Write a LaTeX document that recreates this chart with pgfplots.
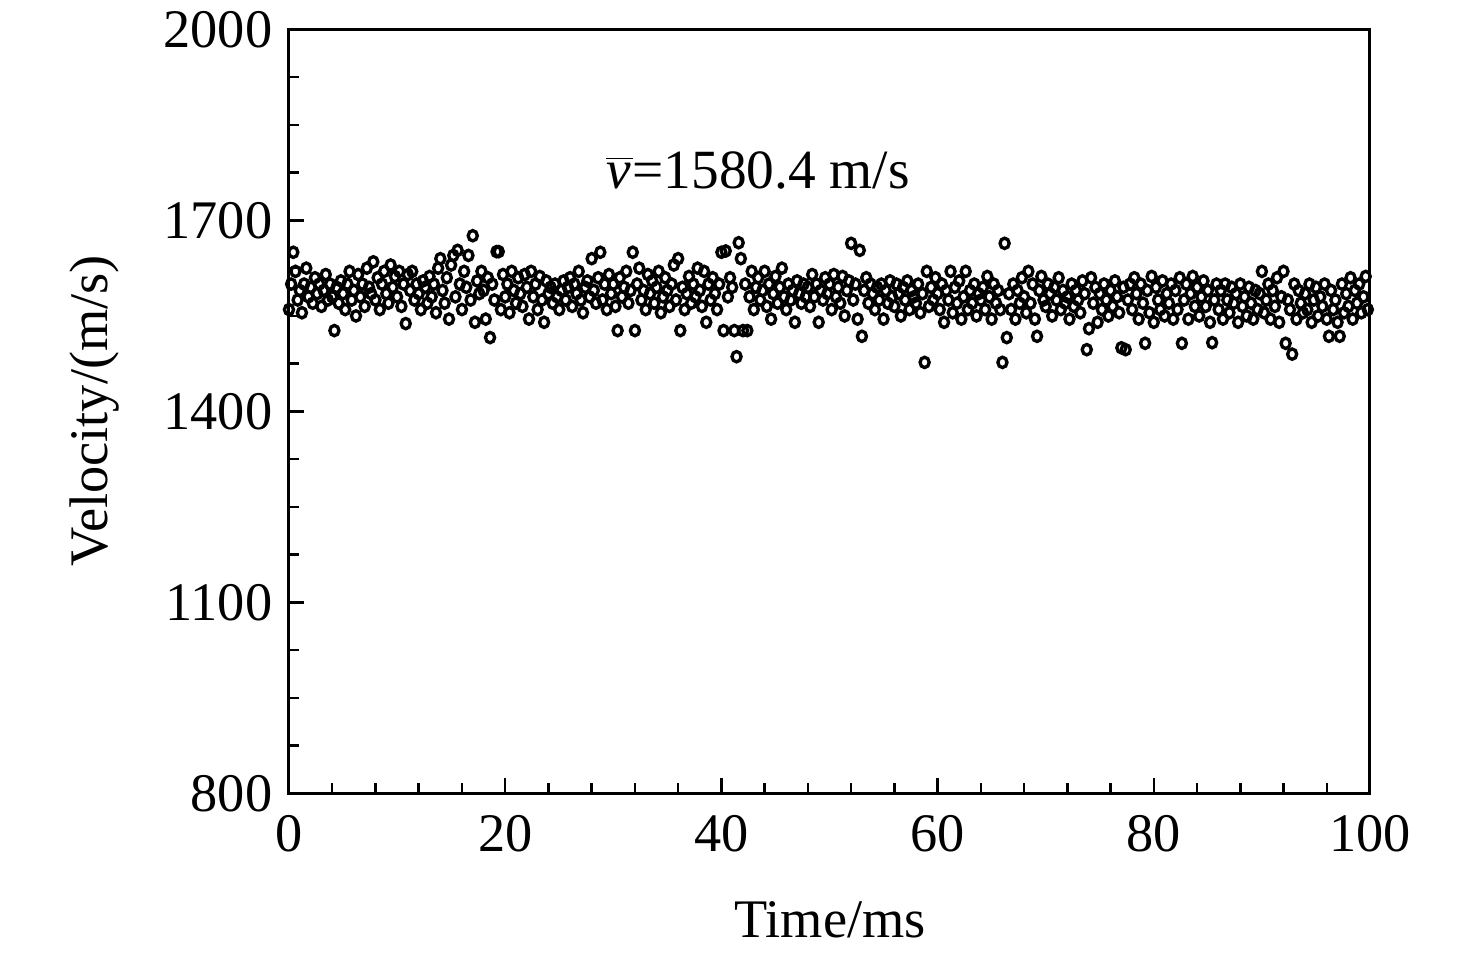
\documentclass[border=0pt]{standalone}
\usepackage{fontspec}
\setmainfont{Liberation Serif}
\usepackage{pgfplots}
\usepackage{pgfplotstable}
\pgfplotsset{compat=1.18}
% each row: 2 ms of samples, one every 0.2 ms (columns k0..k9)
\pgfplotstableread{
k0 k1 k2 k3 k4 k5 k6 k7 k8 k9
1560 1600 1650 1620 1575 1590 1555 1600 1625 1580
1595 1570 1610 1585 1600 1565 1590 1615 1575 1600
1580 1527 1595 1570 1605 1585 1560 1600 1620 1575
1590 1550 1615 1580 1600 1565 1625 1595 1585 1635
1575 1610 1560 1600 1620 1585 1570 1630 1595 1612
1580 1620 1565 1600 1538 1615 1590 1620 1575 1600
1585 1560 1605 1595 1570 1612 1580 1600 1555 1625
1640 1590 1570 1610 1545 1630 1645 1580 1653 1600
1560 1620 1595 1645 1575 1676 1540 1605 1585 1620
1590 1545 1610 1516 1600 1575 1651 1651 1560 1615
1580 1600 1555 1620 1590 1570 1610 1585 1565 1615
1595 1545 1620 1580 1600 1560 1612 1575 1540 1605
1585 1595 1570 1600 1580 1560 1590 1605 1575 1595
1610 1565 1600 1585 1620 1575 1555 1595 1605 1580
1640 1590 1570 1610 1650 1575 1600 1560 1615 1585
1600 1565 1527 1610 1580 1595 1620 1570 1590 1650
1527 1600 1625 1575 1590 1560 1615 1585 1605 1570
1595 1620 1555 1580 1610 1590 1565 1600 1630 1575
1640 1527 1595 1560 1585 1612 1570 1600 1580 1625
1590 1565 1620 1540 1600 1575 1610 1585 1560 1600
1650 1527 1652 1580 1610 1595 1527 1486 1665 1640
1527 1600 1527 1580 1620 1560 1595 1610 1575 1590
1620 1565 1600 1545 1585 1612 1570 1595 1625 1580
1560 1600 1575 1590 1540 1605 1585 1570 1600 1580
1595 1565 1615 1580 1600 1540 1590 1575 1610 1585
1600 1560 1615 1580 1595 1570 1612 1550 1590 1605
1664 1575 1600 1545 1653 1518 1590 1610 1570 1600
1585 1560 1595 1575 1600 1545 1590 1570 1605 1580
1565 1600 1585 1550 1595 1575 1605 1560 1590 1580
1570 1600 1555 1585 1477 1620 1565 1595 1575 1610
1585 1560 1600 1540 1590 1575 1620 1555 1595 1570
1605 1545 1580 1620 1560 1590 1570 1600 1550 1585
1575 1595 1560 1612 1580 1545 1600 1570 1590 1560
1477 1664 1516 1585 1560 1600 1545 1590 1570 1610
1580 1555 1620 1570 1600 1545 1518 1590 1612 1575
1565 1600 1585 1550 1595 1575 1610 1560 1590 1570
1580 1545 1600 1565 1590 1575 1555 1605 1585 1497
1530 1610 1570 1595 1540 1585 1560 1600 1575 1550
1590 1565 1605 1580 1555 1500 1595 1497 1575 1600
1560 1610 1585 1545 1600 1570 1507 1590 1555 1612
1540 1595 1575 1560 1605 1550 1585 1570 1600 1545
1590 1560 1610 1507 1575 1600 1545 1585 1612 1565
1595 1550 1580 1605 1565 1590 1540 1508 1575 1600
1560 1590 1545 1600 1575 1555 1595 1570 1585 1540
1600 1565 1580 1550 1595 1570 1545 1590 1560 1585
1620 1555 1575 1600 1545 1590 1565 1610 1540 1580
1620 1507 1575 1560 1490 1600 1545 1590 1570 1555
1585 1560 1600 1540 1575 1595 1550 1580 1565 1600
1545 1518 1590 1560 1575 1540 1518 1600 1555 1585
1565 1610 1545 1590 1570 1600 1555 1580 1612 1560
}\velo
\pgfplotsset{vel/.style={black, only marks, mark=o, mark size=1.55pt,
    mark options={line width=1pt, xscale=0.88, black}}}
\begin{document}
\begin{tikzpicture}
\begin{axis}[
  name=ax,
  at={(0,0)}, anchor=south west,
  scale only axis,
  width=324.3pt, height=229.2pt,
  xmin=0, xmax=100, ymin=800, ymax=2000,
  xtick={0,20,...,100}, ytick={800,1100,...,2000},
  minor x tick num=4, minor y tick num=3,
  tick align=inside,
  xtick pos=bottom, ytick pos=left,
  major tick length=4.5pt, minor tick length=3pt,
  axis line style={line width=0.9pt},
  every tick/.style={black, line width=0.75pt},
  /pgf/number format/assume math mode=true,
  /pgf/number format/1000 sep={},
  tick label style={font=\fontsize{16.3}{19}\selectfont},
  xticklabel style={yshift=-3pt},
  yticklabel style={xshift=-1.5pt},
  label style={font=\fontsize{16.3}{19}\selectfont},
  xlabel={Time/ms},
  ylabel={Velocity/(m/s)},
  xlabel style={at={(axis description cs:0.5005,-0.166)}, anchor=center},
  ylabel style={at={(axis description cs:-0.1795,0.501)}, anchor=center},
  clip=true,
]
\addplot[vel] table[x expr=\coordindex*2+0.0, y=k0] {\velo};
\addplot[vel] table[x expr=\coordindex*2+0.2, y=k1] {\velo};
\addplot[vel] table[x expr=\coordindex*2+0.4, y=k2] {\velo};
\addplot[vel] table[x expr=\coordindex*2+0.6, y=k3] {\velo};
\addplot[vel] table[x expr=\coordindex*2+0.8, y=k4] {\velo};
\addplot[vel] table[x expr=\coordindex*2+1.0, y=k5] {\velo};
\addplot[vel] table[x expr=\coordindex*2+1.2, y=k6] {\velo};
\addplot[vel] table[x expr=\coordindex*2+1.4, y=k7] {\velo};
\addplot[vel] table[x expr=\coordindex*2+1.6, y=k8] {\velo};
\addplot[vel] table[x expr=\coordindex*2+1.8, y=k9] {\velo};
\node[font=\fontsize{16.6}{19}\selectfont] at (axis cs:43.4,1778)
  {$\overline{\mbox{\itshape v\kern0.5pt}}$=1580.4 m/s};
\end{axis}
\path[use as bounding box] ([xshift=-86.7pt,yshift=-48.9pt]ax.south west)
  rectangle ([xshift=31.8pt,yshift=8.7pt]ax.north east);
\end{tikzpicture}
\end{document}
